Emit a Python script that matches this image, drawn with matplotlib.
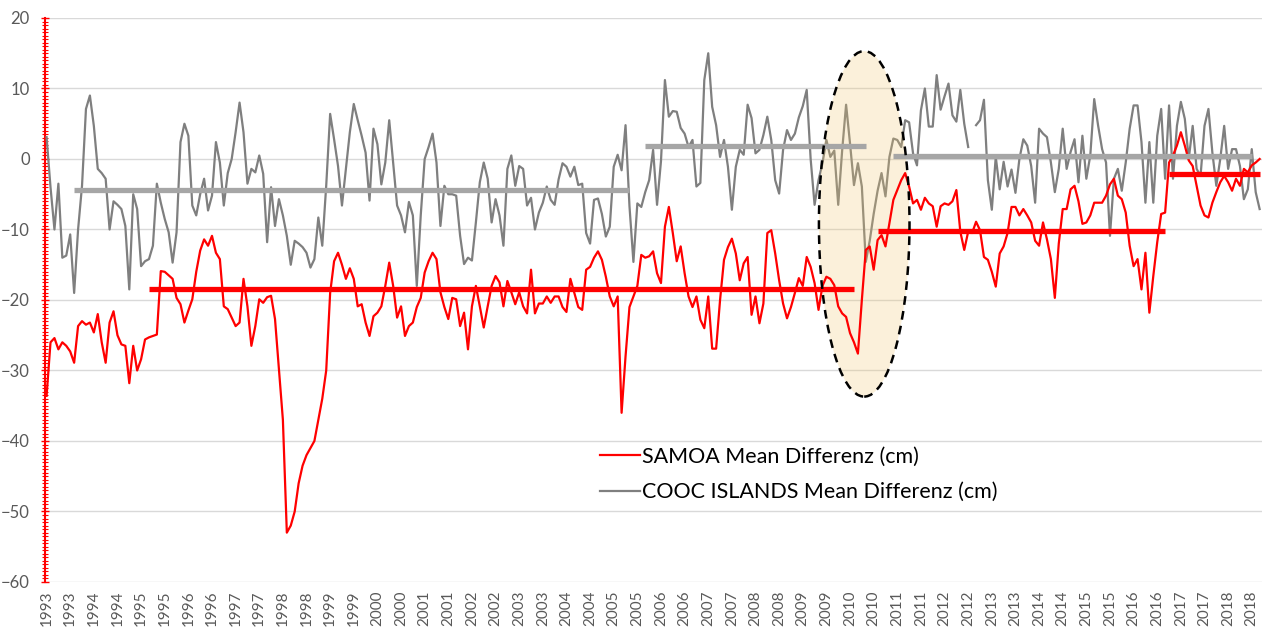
import matplotlib
matplotlib.use("Agg")
import matplotlib.pyplot as plt
from matplotlib.patches import Ellipse
from matplotlib.ticker import MultipleLocator
import numpy as np

plt.rcParams['font.family'] = ['Lato', 'DejaVu Sans']

# monthly mean differences (cm), starting January 1993
samoa = [
    -33.6, -26.0, -25.4, -27.0, -26.0, -26.5, -27.3, -28.9, -23.7, -23.0,
    -23.5, -23.2, -24.6, -22.0, -26.0, -28.9, -23.2, -21.6, -25.0, -26.3,
    -26.5, -31.8, -26.5, -30.0, -28.4, -25.6, -25.3, -25.1, -24.9, -15.9,
    -16.0, -16.5, -17.0, -19.7, -20.6, -23.2, -21.5, -19.9, -16.0, -13.0,
    -11.4, -12.3, -10.9, -13.3, -14.2, -20.9, -21.3, -22.5, -23.7, -23.2,
    -17.0, -20.9, -26.5, -23.7, -19.9, -20.4, -19.6, -19.4, -22.7, -29.9,
    -37.0, -53.0, -52.0, -50.0, -46.0, -43.5, -42.0, -41.0, -40.0, -37.0,
    -34.0, -30.0, -19.0, -14.5, -13.3, -15.0, -17.0, -15.5, -17.0, -20.9,
    -20.6, -23.2, -25.1, -22.3, -21.8, -20.9, -18.0, -14.7, -18.0, -22.5,
    -20.9, -25.1, -23.7, -23.2, -21.0, -19.7, -16.1, -14.5, -13.3, -14.2,
    -18.9, -21.0, -22.7, -19.7, -19.9, -23.7, -21.8, -27.0, -20.9, -18.0,
    -20.9, -23.9, -20.9, -18.0, -16.6, -17.5, -20.9, -17.3, -18.9, -20.6,
    -18.9, -20.9, -21.9, -15.7, -21.9, -20.5, -20.5, -19.5, -20.4, -19.5,
    -19.5, -21.0, -21.7, -17.0, -19.0, -21.0, -21.4, -15.7, -15.3, -14.0,
    -13.1, -14.3, -16.7, -19.5, -20.9, -19.5, -36.0, -28.0, -21.0, -19.5,
    -18.0, -13.6, -14.0, -13.8, -13.1, -16.2, -17.6, -9.6, -6.8, -10.5,
    -14.5, -12.4, -16.2, -19.5, -21.0, -19.5, -22.8, -24.0, -19.5, -26.9,
    -26.9, -20.0, -14.3, -12.5, -11.3, -13.4, -17.2, -14.8, -13.9, -22.1,
    -19.5, -23.3, -20.5, -10.5, -10.1, -13.4, -17.2, -20.5, -22.6, -21.0,
    -19.0, -16.9, -18.0, -13.9, -15.3, -17.6, -21.4, -18.0, -16.7, -17.0,
    -17.9, -20.9, -21.9, -22.4, -24.7, -26.0, -27.6, -20.0, -12.9, -12.4,
    -15.7, -11.5, -10.8, -12.4, -9.1, -5.8, -4.4, -3.0, -2.0, -3.9,
    -6.3, -5.8, -7.2, -5.5, -6.3, -6.7, -9.6, -6.7, -6.3, -6.5,
    -6.0, -4.4, -10.3, -12.9, -10.3, -10.5, -8.9, -10.1, -13.9, -14.3,
    -16.0, -18.1, -13.4, -12.4, -10.5, -6.8, -6.8, -8.0, -7.1, -8.0,
    -9.0, -11.6, -12.3, -9.0, -11.4, -14.2, -19.7, -12.0, -7.1, -7.1,
    -4.3, -3.8, -6.0, -9.2, -9.0, -8.0, -6.2, -6.2, -6.2, -5.2,
    -3.6, -2.8, -5.2, -5.7, -7.6, -12.3, -15.2, -14.2, -18.5, -13.3,
    -21.8, -16.6, -11.8, -7.8, -7.6, -0.5, 0.5, 1.9, 3.8, 1.9,
    -0.2, -1.0, -3.8, -6.6, -8.0, -8.3, -6.2, -4.7, -3.3, -2.4,
    -3.3, -4.5, -2.8, -3.8, -1.4, -1.9, -0.9, -0.5, 0.0,
]

cook = [
    3.1, -4.0, -10.0, -3.5, -14.0, -13.7, -10.7, -19.0, -10.0, -3.8,
    7.1, 9.0, 4.7, -1.4, -2.0, -2.8, -10.0, -6.0, -6.5, -7.1,
    -9.5, -18.5, -5.0, -7.1, -15.2, -14.5, -14.2, -12.3, -3.5, -6.2,
    -8.5, -10.4, -14.7, -10.4, 2.4, 5.0, 3.3, -6.6, -8.0, -5.0,
    -2.8, -7.3, -5.2, 2.4, -0.5, -6.6, -2.0, 0.0, 3.8, 8.0,
    3.8, -3.5, -1.4, -1.9, 0.5, -2.1, -11.8, -4.0, -9.5, -5.7,
    -8.0, -10.9, -15.0, -11.6, -12.0, -12.5, -13.3, -15.4, -14.2, -8.3,
    -12.3, -3.8, 6.4, 2.8, -1.0, -6.6, -1.4, 3.8, 7.8, 5.5,
    3.3, 0.9, -5.9, 4.3, 2.1, -3.6, -0.5, 5.5, -0.5, -6.6,
    -8.0, -10.4, -6.1, -8.0, -18.0, -8.0, 0.0, 1.7, 3.6, -0.5,
    -9.5, -3.8, -5.0, -5.0, -5.2, -10.9, -14.9, -14.0, -14.4, -9.0,
    -3.3, -0.5, -2.8, -9.0, -5.7, -8.0, -12.3, -1.4, 0.5, -3.8,
    -1.0, -1.4, -6.6, -5.5, -10.0, -7.6, -6.2, -3.9, -5.8, -6.5,
    -2.9, -0.6, -1.1, -2.5, -1.1, -3.7, -3.5, -10.5, -12.0, -5.8,
    -5.6, -7.8, -11.0, -9.6, -1.1, 0.6, -1.6, 4.8, -6.7, -14.6,
    -6.3, -6.8, -4.7, -3.0, 1.3, -6.5, -0.3, 11.2, 6.0, 6.8,
    6.7, 4.4, 3.6, 1.7, 2.7, -3.9, -3.4, 11.2, 15.0, 7.4,
    4.8, 0.3, 2.7, -1.1, -7.2, -1.1, 1.3, 0.6, 7.7, 5.8,
    0.8, 1.3, 3.4, 6.0, 2.7, -3.0, -4.9, 1.3, 4.1, 2.7,
    3.6, 5.9, 7.5, 9.8, 0.0, -6.5, -3.0, -0.6, 2.7, 0.3,
    1.2, -6.5, 1.2, 7.7, 2.2, -3.7, -0.6, -3.9, -14.6, -11.6,
    -7.8, -4.5, -2.0, -5.3, 0.3, 2.9, 2.7, 1.7, 5.5, 5.2,
    0.8, -0.9, 6.9, 10.0, 4.6, 4.6, 11.9, 7.0, 8.9, 10.7,
    6.2, 5.3, 9.8, 5.0, 1.7, np.nan, 4.8, 5.5, 8.4, -3.0,
    -7.2, 0.3, -4.3, -0.4, -3.9, -1.5, -4.8, 0.0, 2.8, 1.9,
    -1.0, -6.2, 4.3, 3.6, 3.1, -0.5, -4.7, -1.4, 4.3, -1.4,
    1.0, 2.8, -3.3, 3.3, -2.8, 0.5, 8.5, 4.7, 1.4, -0.5,
    -10.9, -2.8, -1.4, -4.5, -0.5, 4.3, 7.6, 7.6, 2.4, -6.2,
    2.4, -6.2, 3.3, 7.1, -2.8, 7.6, -2.8, 4.7, 8.1, 5.7,
    0.0, 4.7, -1.4, -2.4, 4.7, 7.1, 0.9, -3.8, 0.0, 4.7,
    -1.4, 1.4, 1.4, -1.0, -5.7, -4.3, 1.4, -4.7, -7.1,
]

first_year = 1993

# period means: (first month index, last month index, level)
samoa_means = [(26, 205, -18.4), (211, 284, -10.2), (285, 308, -2.1)]
cook_means = [(7, 148, -4.4), (152, 208, 1.8), (215, 306, 0.4)]

samoa_label = 'SAMOA Mean Differenz (cm)'
cook_label = 'COOC ISLANDS Mean Differenz (cm)'

RED = '#FF0000'
GREY = '#7F7F7F'
GREY_MEAN = '#A6A6A6'
TXT = '#595959'

fig = plt.figure(figsize=(12.68, 6.3), dpi=100)
ax = fig.add_axes([45 / 1268, 48 / 630, 1217 / 1268, 564 / 630])

months = np.arange(len(samoa))
ax.plot(np.arange(len(cook)), cook, color=GREY, lw=1.6, label=cook_label, zorder=3)
ax.plot(months, samoa, color=RED, lw=1.6, label=samoa_label, zorder=4)

for a, b, lvl in cook_means:
    ax.plot([a, b], [lvl, lvl], color=GREY_MEAN, lw=3.8, solid_capstyle='butt', zorder=5)
for a, b, lvl in samoa_means:
    ax.plot([a, b], [lvl, lvl], color=RED, lw=3.8, solid_capstyle='butt', zorder=6)

# highlighted break around 2010: tinted fill over the grey line, dashed outline on top
ell_center, ell_w, ell_h = (207.6, -9.2), 23, 49
ax.add_patch(Ellipse(ell_center, ell_w, ell_h, facecolor=(0.94, 0.78, 0.43, 0.25),
                     edgecolor='none', zorder=3.5))
ax.add_patch(Ellipse(ell_center, ell_w, ell_h, facecolor='none',
                     edgecolor='black', lw=1.8, ls=(0, (3.5, 2.5)), zorder=7))

ax.set_xlim(-0.4, 308.6)
ax.set_ylim(-60, 20)

ticks = np.arange(0, len(samoa), 6)
ax.set_xticks(ticks)
ax.set_xticklabels([str(first_year + t // 12) for t in ticks], rotation=90,
                   fontsize=11, color=TXT)
ax.tick_params(axis='x', length=0, pad=6)

ax.yaxis.set_major_locator(MultipleLocator(10))
ax.yaxis.set_minor_locator(MultipleLocator(0.5))
ax.tick_params(axis='y', which='major', direction='inout', length=6, width=1,
               color=RED, labelsize=12, labelcolor=TXT, pad=8)
ax.tick_params(axis='y', which='minor', direction='inout', length=5, width=0.8, color=RED)

ax.grid(axis='y', color='#D9D9D9', lw=1)
ax.set_axisbelow(True)
for side in ['top', 'right', 'bottom']:
    ax.spines[side].set_visible(False)
ax.spines['left'].set_color(RED)
ax.spines['left'].set_linewidth(1.5)

h, l = ax.get_legend_handles_labels()
ax.legend(h[::-1], l[::-1], loc='upper left',
          bbox_to_anchor=((600 - 45) / 1217, (582 - 447) / 564),
          frameon=False, fontsize=15.5, handlelength=1.85, handletextpad=0.1,
          labelspacing=0.7, borderaxespad=0, borderpad=0)

fig.savefig('out.png', dpi=100)
